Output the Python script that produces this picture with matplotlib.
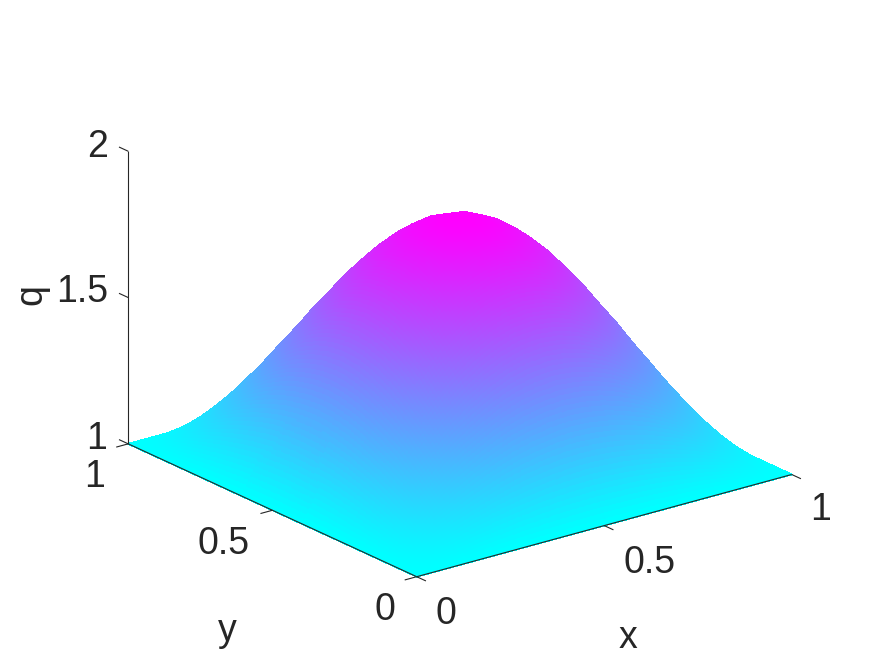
import numpy as np
import matplotlib
matplotlib.use('Agg')
import matplotlib.pyplot as plt
from mpl_toolkits.mplot3d import proj3d

plt.rcParams['font.family'] = ['Liberation Sans', 'DejaVu Sans']

W, H = 875, 656
TXT = '#262626'

# one quarter of the surface, the rest is its mirror image
q_quarter = [
    [1.000, 1.000, 1.000, 1.000, 1.000, 1.000, 1.000, 1.000, 1.000, 1.000, 1.000],
    [1.000, 1.020, 1.040, 1.058, 1.076, 1.091, 1.104, 1.115, 1.123, 1.127, 1.129],
    [1.000, 1.040, 1.079, 1.116, 1.150, 1.180, 1.206, 1.227, 1.242, 1.252, 1.255],
    [1.000, 1.058, 1.116, 1.170, 1.220, 1.265, 1.303, 1.334, 1.356, 1.370, 1.375],
    [1.000, 1.076, 1.150, 1.220, 1.285, 1.343, 1.392, 1.432, 1.461, 1.479, 1.485],
    [1.000, 1.091, 1.180, 1.265, 1.343, 1.412, 1.472, 1.520, 1.555, 1.576, 1.583],
    [1.000, 1.104, 1.206, 1.303, 1.392, 1.472, 1.540, 1.595, 1.635, 1.660, 1.667],
    [1.000, 1.115, 1.227, 1.334, 1.432, 1.520, 1.595, 1.655, 1.699, 1.726, 1.735],
    [1.000, 1.123, 1.242, 1.356, 1.461, 1.555, 1.635, 1.699, 1.746, 1.775, 1.785],
    [1.000, 1.127, 1.252, 1.370, 1.479, 1.576, 1.660, 1.726, 1.775, 1.805, 1.815],
    [1.000, 1.129, 1.255, 1.375, 1.485, 1.583, 1.667, 1.735, 1.785, 1.815, 1.825],
]
x_ticks = [0, 0.5, 1]
y_ticks = [0, 0.5, 1]
z_ticks = [1, 1.5, 2]

half = np.array(q_quarter)
top = np.hstack([half, half[:, -2::-1]])
q = np.vstack([top, top[-2::-1]])
grid = np.linspace(0, 1, q.shape[0])

# shading interp: matlab blends colours across each cell, so resample for drawing only
fine = np.linspace(0, 1, 161)
q_fine = np.array([np.interp(fine, grid, row) for row in q])
q_fine = np.array([np.interp(fine, grid, col) for col in q_fine.T]).T
X, Y = np.meshgrid(fine, fine)
colors = plt.cm.cool((q_fine - q_fine.min()) / (q_fine.max() - q_fine.min()))

fig = plt.figure(figsize=(W / 100, H / 100), dpi=100)
ax = fig.add_axes([0, 0, 1, 1], projection='3d', computed_zorder=False)
ax.set_proj_type('ortho')
ax.view_init(elev=20.75, azim=-127.57)
ax.set_xlim(0, 1)
ax.set_ylim(0, 1)
ax.set_zlim(1, 2)
ax.set_axis_off()
ax.patch.set_alpha(0)

aspect = (473, 473, 312.8)


def to_px(x, y, z):
    px, py, _ = proj3d.proj_transform(x, y, z, ax.get_proj())
    a, b = ax.transData.transform((px, py))
    return a, H - b


# fit the box on the corners measured in the reference
ax.set_box_aspect(aspect)
fig.canvas.draw()
a0 = to_px(0, 0, 1)
a1 = to_px(1, 0, 1)
zoom = 375.0 / (a1[0] - a0[0])
ax.set_box_aspect(aspect, zoom=zoom)
fig.canvas.draw()
a0 = to_px(0, 0, 1)
ax.set_position([(416.7 - a0[0]) / W, (a0[1] - 576.7) / H, 1, 1])
fig.canvas.draw()

surf = ax.plot_surface(X, Y, q_fine, facecolors=colors, rstride=1, cstride=1,
                       shade=False, linewidth=0.6, antialiased=False, zorder=1)
surf.set_clip_on(False)

# axis lines and ticks, matlab style
line = dict(color=TXT, lw=0.8, zorder=3, solid_capstyle='butt', clip_on=False)
ax.plot([0, 1], [0, 0], [1, 1], **line)
ax.plot([0, 0], [0, 1], [1, 1], **line)
ax.plot([0, 0], [1, 1], [1, 2], **line)
tick = 0.032
for t in x_ticks:
    ax.plot([t, t], [0, -tick], [1, 1], **line)
for t in y_ticks:
    ax.plot([0, -tick], [t, t], [1, 1], **line)
for t in z_ticks:
    ax.plot([0, 0], [1, 1 + tick], [t, t], **line)


def label(px, py, s, size=27, **kw):
    fig.text(px / W, 1 - py / H, s, fontsize=size, color=TXT,
             ha='center', va='center', **kw)


label(98, 147, '2')
label(82, 292, '1.5')
label(97, 439, '1')
label(95, 477, '1')
label(224, 544, '0.5')
label(385, 610, '0')
label(446, 614, '0')
label(650, 563, '0.5')
label(821, 510, '1')
label(227, 631, 'y')
label(628, 638, 'x')
label(31, 295, 'q', rotation=90)

fig.savefig('out.png', dpi=100)
